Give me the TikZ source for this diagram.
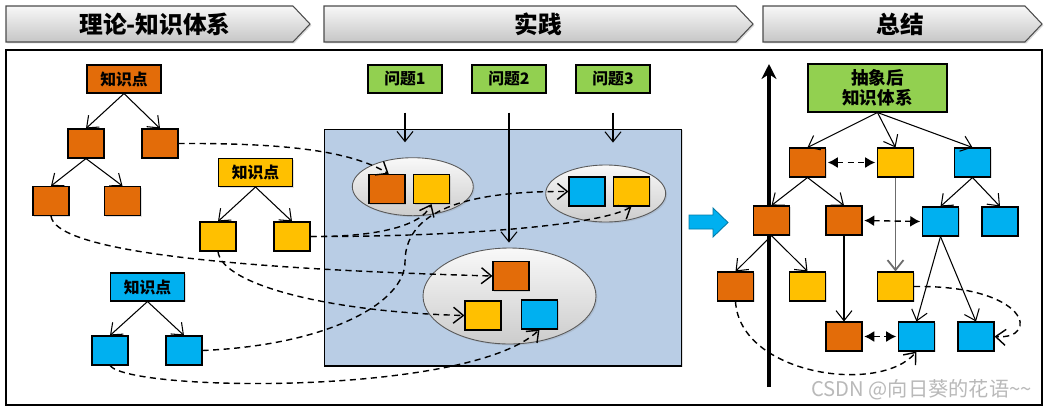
\documentclass[tikz,border=0pt]{standalone}
\usepackage{fontspec}
\setmainfont{Noto Sans CJK SC}
\usetikzlibrary{arrows.meta, positioning, shapes.geometric, shadows}

\definecolor{kOrange}{HTML}{E36C09}
\definecolor{kYellow}{HTML}{FFC000}
\definecolor{kBlue}{HTML}{00B0F0}
\definecolor{kGreen}{HTML}{92D050}
\definecolor{kPanel}{HTML}{B9CDE5}

\tikzset{
  leaf/.style={draw, line width=0.6pt, minimum width=0.72cm, minimum height=0.58cm, inner sep=0pt,
    drop shadow={opacity=0.25, shadow xshift=0.8pt, shadow yshift=-0.8pt}},
  tag/.style={leaf, minimum width=1.48cm, minimum height=0.56cm, font=\bfseries\fontsize{9}{10}\selectfont},
  tree/.style={-{Straight Barb[length=2mm,width=3.2mm]}, line width=0.6pt},
  link/.style={tree, dash pattern=on 3.5pt off 2.5pt, line width=0.8pt},
  both/.style={{Latex[length=2mm,width=2.2mm]}-{Latex[length=2mm,width=2.2mm]}, dash pattern=on 3.5pt off 2.5pt, line width=0.8pt, shorten <=1pt, shorten >=1pt},
  stage/.style={draw=gray!60!black, line width=0.6pt, top color=gray!6, bottom color=gray!45,
    drop shadow={opacity=0.3, shadow xshift=0.8pt, shadow yshift=-0.8pt}},
  stagetxt/.style={font=\bfseries\fontsize{13.5}{15}\selectfont},
  bubble/.style={ellipse, draw=gray!70!black, line width=0.5pt, inner sep=0pt, top color=gray!5, bottom color=gray!40,
    drop shadow={opacity=0.2, shadow xshift=0.8pt, shadow yshift=-0.8pt}}
}

\begin{document}
\begin{tikzpicture}[x=0.02cm, y=-0.02cm]
\useasboundingbox (0,0) rectangle (1046,410);

% stage headers
\draw[stage] (6,6) -- (293,6) -- (310,24) -- (293,42) -- (6,42) -- cycle;
\draw[stage] (324,6) -- (736,6) -- (753,24) -- (736,42) -- (324,42) -- cycle;
\draw[stage] (763,6) -- (1025,6) -- (1042,24) -- (1025,42) -- (763,42) -- cycle;
\node[stagetxt] (h1) at (155,24) {理论-知识体系};
\node[stagetxt] (h2) at (538,24) {实践};
\node[stagetxt] (h3) at (900,24) {总结};

% outer frame
\draw[line width=0.8pt, fill=white, drop shadow={opacity=0.3, shadow xshift=0.8pt, shadow yshift=-0.8pt}] (6,50) rectangle (1042,405);

% theory: three small trees
\node[tag, fill=kOrange] (ot) at (124,79) {知识点};
\node[leaf, fill=kOrange] (oa1) at (86,143.5) {};
\node[leaf, fill=kOrange] (oa2) at (160,143.5) {};
\node[leaf, fill=kOrange] (ob1) at (51,201) {};
\node[leaf, fill=kOrange] (ob2) at (122.5,201) {};
\node[tag, fill=kYellow] (yt) at (255.5,172.5) {知识点};
\node[leaf, fill=kYellow] (ya) at (218,236.5) {};
\node[leaf, fill=kYellow] (yb) at (292,236.5) {};
\node[tag, fill=kBlue] (bt) at (147.5,287) {知识点};
\node[leaf, fill=kBlue] (ba) at (110,350.5) {};
\node[leaf, fill=kBlue] (bb) at (184,350.5) {};
\foreach \a/\b in {ot/oa1, ot/oa2, oa1/ob1, oa1/ob2, yt/ya, yt/yb, bt/ba, bt/bb}
  \draw[tree] (\a.south) -- (\b.north);

% practice
\node[tag, fill=kGreen] (q1) at (405,79) {问题1};
\node[tag, fill=kGreen] (q2) at (509,79) {问题2};
\node[tag, fill=kGreen] (q3) at (613,79) {问题3};
\node[draw, line width=0.6pt, fill=kPanel, minimum width=7.16cm, minimum height=4.74cm,
  drop shadow={opacity=0.25, shadow xshift=0.8pt, shadow yshift=-0.8pt}] (panel) at (503,247.5) {};
\node[bubble, minimum width=2.42cm, minimum height=1.16cm] (e1) at (412.8,186.7) {};
\node[bubble, minimum width=2.40cm, minimum height=1.14cm] (e2) at (605.7,193.5) {};
\node[bubble, minimum width=3.46cm, minimum height=1.92cm] (e3) at (509.5,296) {};
\node[leaf, fill=kOrange] (p1o) at (387,189) {};
\node[leaf, fill=kYellow] (p1y) at (431.5,189) {};
\node[leaf, fill=kBlue] (p2b) at (587,191.5) {};
\node[leaf, fill=kYellow] (p2y) at (631.5,191.5) {};
\node[leaf, fill=kOrange] (p3o) at (511,276) {};
\node[leaf, fill=kYellow] (p3y) at (483,315.5) {};
\node[leaf, fill=kBlue] (p3b) at (539.5,314.5) {};
\draw[tree, shorten <=0.38cm, shorten >=0.3cm] (q1.south) -- (q1.south |- e1.north);
\draw[tree, shorten <=0.38cm, shorten >=0.1cm] (q2.south) -- (q2.south |- e3.north);
\draw[tree, shorten <=0.38cm, shorten >=0.44cm] (q3.south) -- (q3.south |- e2.north);

% knowledge points used in practice
\draw[link] (oa2.east) .. controls (280,143) and (350,150) .. ([xshift=1pt]p1o.north);
\draw[link] (ob1.south) .. controls (55,248) and (200,268) .. (p3o.west);
\draw[link] (ya.south) .. controls (222,285) and (330,312) .. (p3y.west);
\draw[link] (yb.east) .. controls (370,237) and (420,228) .. (p1y.south);
\draw[link] (yb.east) .. controls (450,237) and (600,226) .. (p2y.south);
\draw[link] (bb.east) .. controls (330,345) and (405,302) .. (405,262)
  .. controls (405,205) and (480,191) .. (p2b.west);
\draw[link] (ba.south) .. controls (130,392) and (470,396) .. (p3b.south);

% to summary
\fill[kBlue, draw=kBlue!70!black, line width=0.5pt] (689,215) -- (713,215) -- (713,208) -- (728,222.5)
  -- (713,237) -- (713,229) -- (689,229) -- cycle;
\coordinate (axb) at (769,387);
\coordinate (axt) at (769,64);
\draw[line width=2.2pt, -{Stealth[length=3mm,width=3mm]}] (axb) -- (axt);

% summary tree
\node[tag, fill=kGreen, minimum width=2.78cm, minimum height=0.96cm, align=center,
  font=\bfseries\fontsize{10}{11.5}\selectfont] (gt) at (877.5,88) {抽象后\\知识体系};
\node[leaf, fill=kOrange] (r1o) at (807.5,162.5) {};
\node[leaf, fill=kYellow] (r1y) at (895.5,162.5) {};
\node[leaf, fill=kBlue] (r1b) at (972.5,162.5) {};
\node[leaf, fill=kOrange] (r2oa) at (771.5,220.5) {};
\node[leaf, fill=kOrange] (r2ob) at (844,220.5) {};
\node[leaf, fill=kBlue] (r2ba) at (940.5,221.5) {};
\node[leaf, fill=kBlue] (r2bb) at (1000,221.5) {};
\node[leaf, fill=kOrange] (r3o) at (735.5,286.5) {};
\node[leaf, fill=kYellow] (r3ya) at (807.5,286.5) {};
\node[leaf, fill=kYellow] (r3yb) at (895.5,286.5) {};
\node[leaf, fill=kOrange] (r4o) at (844,336.5) {};
\node[leaf, fill=kBlue] (r4ba) at (916.5,336.5) {};
\node[leaf, fill=kBlue] (r4bb) at (976,336.5) {};
\foreach \a/\b in {gt/r1o, gt/r1y, gt/r1b, r1o/r2oa, r1o/r2ob, r1b/r2ba, r1b/r2bb,
  r2oa/r3o, r2oa/r3ya, r2ob/r4o, r2ba/r4ba, r2ba/r4bb}
  \draw[tree] (\a.south) -- (\b.north);
\draw[tree, draw=gray!85!black, line width=1pt] (r1y.south) -- (r3yb.north);
\draw[both] (r1o.east) -- (r1y.west);
\draw[both] (r2ob.east) -- (r2ba.west);
\draw[both] (r4o.east) -- (r4ba.west);
\draw[link] (r3yb.east) .. controls (1030,285) and (1040,340) .. (r4bb.east);
\draw[link] (r3o.south) .. controls (740,375) and (880,395) .. (r4ba.south);

\node[text=gray!55, font=\fontsize{11.5}{12}\selectfont, anchor=east, inner sep=0pt] (mark) at (1032,390) {CSDN @向日葵的花语\textasciitilde\textasciitilde};
\end{tikzpicture}
\end{document}
